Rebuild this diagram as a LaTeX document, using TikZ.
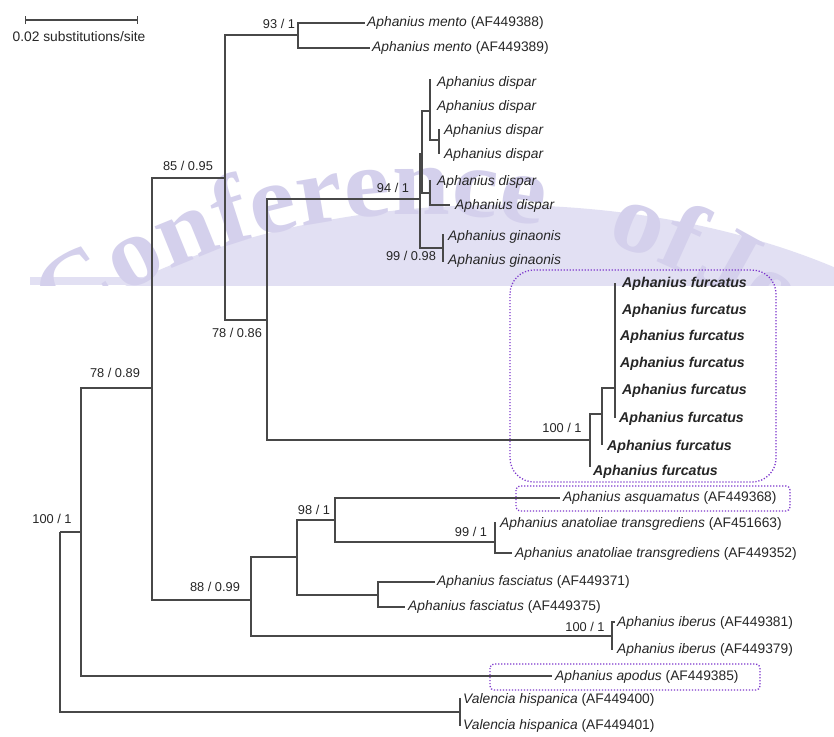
\documentclass[tikz,border=0pt]{standalone}
\usepackage{fontspec}
\setmainfont{Liberation Sans}
\newfontfamily\wmserif[FakeStretch=1.06]{Liberation Serif}
\usetikzlibrary{decorations.text,arrows.meta}
\definecolor{branch}{RGB}{72,72,72}
\definecolor{boxc}{RGB}{125,55,205}
\definecolor{wmfill}{RGB}{226,224,243}
\definecolor{wmtext}{RGB}{212,208,236}
\newcommand{\wmstyle}{\wmserif\bfseries\fontsize{98}{98}\selectfont\color{wmtext}}
\newcommand{\spn}[1]{\textit{#1}}
\tikzset{
  br/.style={draw=branch, line width=1.1pt},
  leaf/.style={anchor=west, inner sep=0pt, text=black!85, font=\fontsize{13.8}{15}\selectfont, text height=9.8pt, text depth=0pt},
  fur/.style={leaf, font=\fontsize{14.2}{15}\selectfont\bfseries\itshape},
  lab/.style={inner sep=0pt, text=black!85, font=\fontsize{12.8}{14}\selectfont},
  dbox/.style={draw=boxc, line width=1.3pt, dash pattern=on 1.2pt off 1.8pt}
}
\begin{document}
\begin{tikzpicture}[x=1pt,y=-1pt]
\useasboundingbox (0,0) rectangle (834,736);
\fill[white] (0,0) rectangle (834,736);
% watermark
\begin{scope}
\clip (0,0) rectangle (834,285);
\fill[wmfill] (500,520) ellipse [x radius=560, y radius=315];
\fill[wmfill] (30,277) rectangle (834,285);
\path[decorate, decoration={text along path, text={|\wmstyle|Conference{\hspace*{66pt}}of{\hspace*{6pt}}Je}}] (423,815) ++(233:601) arc[start angle=233, end angle=328, radius=601];
\end{scope}
% scale bar
\coordinate (s1) at (25,20);
\coordinate (s2) at (138,20);
\draw[br, {Bar[width=8pt]}-{Bar[width=8pt]}] (s1) -- (s2);
\node[lab, font=\fontsize{13.8}{15}\selectfont] (scl) at (79,37) {0.02 substitutions/site};
% internal nodes
\coordinate (R) at (60,532);
\coordinate (A) at (81,532);
\coordinate (B) at (152,388);
\coordinate (C) at (225,178);
\coordinate (Mn) at (298,35);
\coordinate (D) at (267,320);
\coordinate (E) at (420,199);
\coordinate (F) at (422,154);
\coordinate (G) at (430,111);
\coordinate (G2) at (439,140);
\coordinate (P) at (430,193);
\coordinate (Gi) at (443,248);
\coordinate (H) at (590,440);
\coordinate (I) at (602,414);
\coordinate (J) at (615,388);
\coordinate (K) at (251,600);
\coordinate (L) at (297,557);
\coordinate (M) at (335,520);
\coordinate (N) at (495,542);
\coordinate (O) at (378,595);
\coordinate (Ib) at (612,636);
\coordinate (V) at (460,712);
% tips
\coordinate (tm1) at (365,23);
\coordinate (tm2) at (370,48);
\coordinate (td1) at (430,79);
\coordinate (td2) at (430,106);
\coordinate (td3) at (439,129);
\coordinate (td4) at (439,154);
\coordinate (td5) at (430,180);
\coordinate (td6) at (450,205);
\coordinate (tg1) at (443,234);
\coordinate (tg2) at (443,262);
\coordinate (tf1) at (615,283);
\coordinate (tf2) at (615,310);
\coordinate (tf3) at (615,336);
\coordinate (tf4) at (615,363);
\coordinate (tf5) at (615,390);
\coordinate (tf6) at (615,418);
\coordinate (tf7) at (602,445);
\coordinate (tf8) at (590,467);
\coordinate (tasq) at (560,498);
\coordinate (tan1) at (495,522);
\coordinate (tan2) at (512,553);
\coordinate (tfa1) at (435,582);
\coordinate (tfa2) at (405,607);
\coordinate (tib1) at (615,622);
\coordinate (tib2) at (612,650);
\coordinate (tap) at (552,676);
\coordinate (tv1) at (460,698);
\coordinate (tv2) at (460,726);
% leaf labels
\node[leaf] (m1) at (367,22) {\spn{Aphanius mento} (AF449388)};
\node[leaf] (m2) at (372,47) {\spn{Aphanius mento} (AF449389)};
\node[leaf] (d1) at (437,82) {\spn{Aphanius dispar}};
\node[leaf] (d2) at (437,106) {\spn{Aphanius dispar}};
\node[leaf] (d3) at (444,130) {\spn{Aphanius dispar}};
\node[leaf] (d4) at (444,154) {\spn{Aphanius dispar}};
\node[leaf] (d5) at (437,181) {\spn{Aphanius dispar}};
\node[leaf] (d6) at (455,205) {\spn{Aphanius dispar}};
\node[leaf] (g1) at (448,236) {\spn{Aphanius ginaonis}};
\node[leaf] (g2) at (448,260) {\spn{Aphanius ginaonis}};
\node[fur] (f1) at (622,283) {Aphanius furcatus};
\node[fur] (f2) at (622,310) {Aphanius furcatus};
\node[fur] (f3) at (620,336) {Aphanius furcatus};
\node[fur] (f4) at (620,363) {Aphanius furcatus};
\node[fur] (f5) at (622,390) {Aphanius furcatus};
\node[fur] (f6) at (619,418) {Aphanius furcatus};
\node[fur] (f7) at (607,446) {Aphanius furcatus};
\node[fur] (f8) at (593,471) {Aphanius furcatus};
\node[leaf] (asq) at (563,497) {\spn{Aphanius asquamatus} (AF449368)};
\node[leaf] (an1) at (500,523) {\spn{Aphanius anatoliae transgrediens} (AF451663)};
\node[leaf] (an2) at (515,553) {\spn{Aphanius anatoliae transgrediens} (AF449352)};
\node[leaf] (fa1) at (437,581) {\spn{Aphanius fasciatus} (AF449371)};
\node[leaf] (fa2) at (408,606) {\spn{Aphanius fasciatus} (AF449375)};
\node[leaf] (ib1) at (617,622) {\spn{Aphanius iberus} (AF449381)};
\node[leaf] (ib2) at (617,649) {\spn{Aphanius iberus} (AF449379)};
\node[leaf] (ap) at (555,676) {\spn{Aphanius apodus} (AF449385)};
\node[leaf] (v1) at (463,699) {\spn{Valencia hispanica} (AF449400)};
\node[leaf] (v2) at (463,725) {\spn{Valencia hispanica} (AF449401)};
% branches
\draw[br] (R) |- (A);
\draw[br] (R) |- (V);
\draw[br] (A) |- (B);
\draw[br] (A) |- (tap);
\draw[br] (B) |- (C);
\draw[br] (B) |- (K);
\draw[br] (C) |- (Mn);
\draw[br] (C) |- (D);
\draw[br] (Mn) |- (tm1);
\draw[br] (Mn) |- (tm2);
\draw[br] (D) |- (E);
\draw[br] (D) |- (H);
\draw[br] (E) |- (F);
\draw[br] (E) |- (Gi);
\draw[br] (F) |- (G);
\draw[br] (F) |- (P);
\draw[br] (G) |- (td1);
\draw[br] (G) |- (td2);
\draw[br] (G) |- (G2);
\draw[br] (G2) |- (td3);
\draw[br] (G2) |- (td4);
\draw[br] (P) |- (td5);
\draw[br] (P) |- (td6);
\draw[br] (Gi) |- (tg1);
\draw[br] (Gi) |- (tg2);
\draw[br] (H) |- (I);
\draw[br] (H) |- (tf8);
\draw[br] (I) |- (J);
\draw[br] (I) |- (tf7);
\foreach \t in {tf1,tf2,tf3,tf4,tf5,tf6} \draw[br] (J) |- (\t);
\draw[br] (K) |- (L);
\draw[br] (K) |- (Ib);
\draw[br] (L) |- (M);
\draw[br] (L) |- (O);
\draw[br] (M) |- (tasq);
\draw[br] (M) |- (N);
\draw[br] (N) |- (tan1);
\draw[br] (N) |- (tan2);
\draw[br] (O) |- (tfa1);
\draw[br] (O) |- (tfa2);
\draw[br] (Ib) |- (tib1);
\draw[br] (Ib) |- (tib2);
\draw[br] (V) |- (tv1);
\draw[br] (V) |- (tv2);
% support labels
\node[lab] (l1) at (52,519) {100 / 1};
\node[lab] (l2) at (115,373) {78 / 0.89};
\node[lab] (l3) at (188,166) {85 / 0.95};
\node[lab] (l4) at (279,24) {93 / 1};
\node[lab] (l5) at (237,333) {78 / 0.86};
\node[lab] (l6) at (393,188) {94 / 1};
\node[lab] (l7) at (411,256) {99 / 0.98};
\node[lab] (l8) at (562,428) {100 / 1};
\node[lab] (l9) at (314,510) {98 / 1};
\node[lab] (l10) at (471,532) {99 / 1};
\node[lab] (l11) at (215,587) {88 / 0.99};
\node[lab] (l12) at (585,627) {100 / 1};
% highlight boxes
\draw[dbox, rounded corners=24pt] (510,270) rectangle (776,482);
\draw[dbox, rounded corners=4pt] (516,486) rectangle (790,511);
\draw[dbox, rounded corners=4pt] (490,664) rectangle (760,690);
\end{tikzpicture}
\end{document}
